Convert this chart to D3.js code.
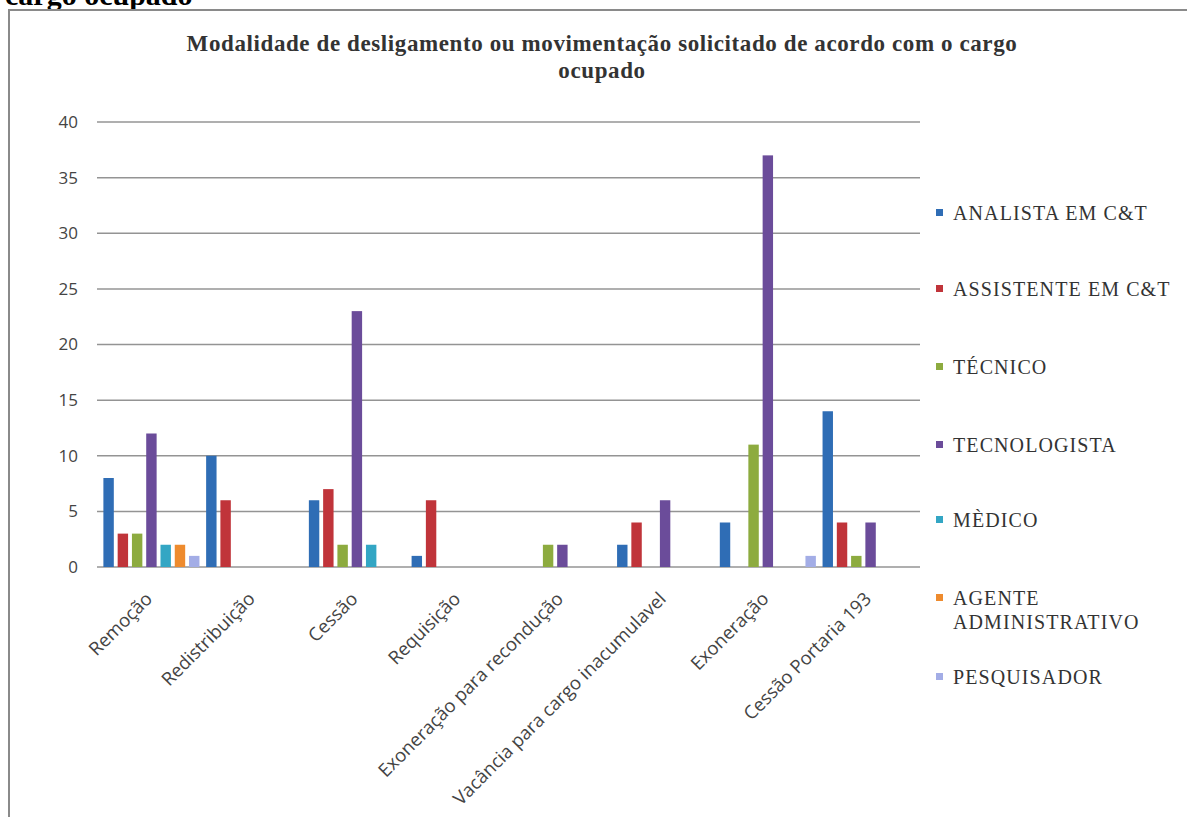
<!DOCTYPE html>
<html>
<head>
<meta charset="utf-8">
<script src="https://cdnjs.cloudflare.com/ajax/libs/d3/7.8.5/d3.min.js"></script>
<style>
    body { margin: 0; background: #fff; }
</style>
</head>
<body>
<svg id="canvas" width="1187" height="817"></svg>
<script>
// Data
let categories = ['Remoção', 'Redistribuição', 'Cessão', 'Requisição', 'Exoneração para recondução', 'Vacância para cargo inacumulavel', 'Exoneração', 'Cessão Portaria 193']
let seriesNames = ['ANALISTA EM C&T', 'ASSISTENTE EM C&T', 'TÉCNICO', 'TECNOLOGISTA', 'MÈDICO', 'AGENTE ADMINISTRATIVO', 'PESQUISADOR']
let analista     = [8, 10, 6, 1, 0, 2, 4, 14]
let assistente   = [3, 6, 7, 6, 0, 4, 0, 4]
let tecnico      = [3, 0, 2, 0, 2, 0, 11, 1]
let tecnologista = [12, 0, 23, 0, 2, 6, 37, 4]
let medico       = [2, 0, 2, 0, 0, 0, 0, 0]
let agente       = [2, 0, 0, 0, 0, 0, 0, 0]
let pesquisador  = [1, 0, 0, 0, 0, 0, 1, 0]
let yTicks = [0, 5, 10, 15, 20, 25, 30, 35, 40]
let colors = ['#2f6db5', '#c0343a', '#8dab3f', '#6b4c9a', '#33a6c4', '#ee8b2e', '#a3ade6']

let seriesValues = [analista, assistente, tecnico, tecnologista, medico, agente, pesquisador]

let canvas = d3.select('#canvas')

// frame + caption remnant above it (cut at the top, as in the source page)
canvas.append('text')
    .attr('x', 5).attr('y', 5)
    .style('font-family', '"Liberation Serif", serif')
    .style('font-weight', 'bold')
    .style('font-size', '30px')
    .attr('fill', '#000')
    .text('cargo ocupado')

canvas.append('rect')
    .attr('x', 9).attr('y', 10)
    .attr('width', 1190).attr('height', 830)
    .attr('fill', 'none')
    .attr('stroke', '#8a8a8a')
    .attr('stroke-width', 2)

// Title
let title = canvas.append('text')
    .attr('text-anchor', 'middle')
    .style('font-family', '"Liberation Serif", serif')
    .style('font-weight', 'bold')
    .style('font-size', '23px')
    .style('letter-spacing', '0.6px')
    .attr('fill', '#333')
title.append('tspan').attr('x', 602).attr('y', 51).text('Modalidade de desligamento ou movimentação solicitado de acordo com o cargo')
title.append('tspan').attr('x', 602).attr('y', 78).text('ocupado')

// Scales
let x0 = d3.scaleBand()
    .domain(categories)
    .range([100, 922])
    .paddingInner(0.065)
    .paddingOuter(0.033)

let x1 = d3.scaleBand()
    .domain(d3.range(seriesNames.length))
    .range([0, x0.bandwidth()])
    .paddingInner(0.27)
    .paddingOuter(0)

let y = d3.scaleLinear()
    .domain([0, 40])
    .range([567, 122])

// Gridlines
canvas.append('g')
    .selectAll('line')
    .data(yTicks)
    .enter()
    .append('line')
    .attr('x1', 97).attr('x2', 920)
    .attr('y1', d => y(d)).attr('y2', d => y(d))
    .attr('stroke', '#949494')
    .attr('stroke-width', 1.5)

// Y axis labels
let yAxis = d3.axisLeft(y).tickValues(yTicks).tickSize(0).tickPadding(0)
canvas.append('g')
    .attr('transform', 'translate(78,0)')
    .call(yAxis)
    .call(g => g.select('.domain').remove())
    .selectAll('text')
    .style('font-family', '"Open Sans", sans-serif')
    .style('font-size', '17px')
    .attr('fill', '#444')

// Bars
seriesValues.forEach((vals, s) => {
    canvas.append('g')
        .selectAll('rect')
        .data(vals)
        .enter()
        .append('rect')
        .attr('x', (d, i) => x0(categories[i]) + x1(s))
        .attr('y', d => y(d))
        .attr('width', x1.bandwidth())
        .attr('height', d => y(0) - y(d))
        .attr('fill', colors[s])
})

// X labels, rotated
let xAxis = d3.axisBottom(x0).tickSize(0).tickPadding(0)
canvas.append('g')
    .attr('transform', 'translate(0,567)')
    .call(xAxis)
    .call(g => g.select('.domain').remove())
    .selectAll('text')
    .attr('text-anchor', 'end')
    .attr('dy', 0)
    .attr('transform', 'translate(2,33) rotate(-45)')
    .style('font-family', '"Open Sans", sans-serif')
    .style('font-size', '18.5px')
    .attr('fill', '#444')

// Legend
let legendY = [213, 289, 367, 445, 520, 598, 677]
let legend = canvas.append('g')
seriesNames.forEach((name, i) => {
    legend.append('rect')
        .attr('x', 936).attr('y', legendY[i] - 4)
        .attr('width', 7).attr('height', 7)
        .attr('fill', colors[i])
    let t = legend.append('text')
        .attr('x', 953).attr('y', legendY[i] + 7)
        .style('font-family', '"Liberation Serif", serif')
        .style('font-size', '20px')
        .style('letter-spacing', '1.1px')
        .attr('fill', '#333')
    if (name == 'AGENTE ADMINISTRATIVO') {
        t.append('tspan').attr('x', 953).text('AGENTE')
        t.append('tspan').attr('x', 953).attr('dy', 24).text('ADMINISTRATIVO')
    } else {
        t.text(name)
    }
})
</script>
</body>
</html>
